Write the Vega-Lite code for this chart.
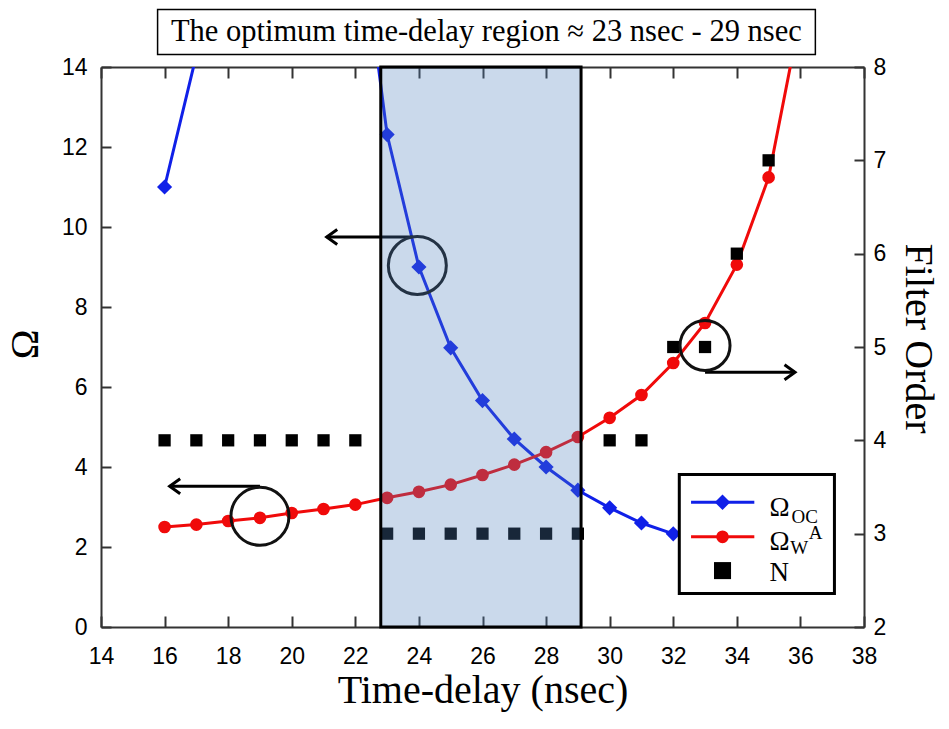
{
  "$schema": "https://vega.github.io/schema/vega-lite/v6.json",
  "width": 763,
  "height": 560,
  "autosize": "none",
  "padding": {"left": 101, "top": 67, "right": 85, "bottom": 102},
  "background": "white",
  "config": {
    "view": {"stroke": null},
    "axis": {
      "grid": false,
      "labelFlush": false,
      "domainColor": "#333333",
      "domainWidth": 2,
      "tickColor": "#333333",
      "tickWidth": 2,
      "labelFont": "Liberation Sans",
      "labelFontSize": 23,
      "labelColor": "black",
      "titleFont": "Liberation Serif",
      "titleFontSize": 40,
      "titleFontWeight": "normal",
      "titleColor": "black"
    }
  },
  "datasets": {
    "oc": [
      {"t": 16, "v": 11.0}, {"t": 17, "v": 14.3}, {"t": 18, "v": 20.0}, {"t": 19, "v": 26.0},
      {"t": 20, "v": 24.0}, {"t": 21, "v": 21.0}, {"t": 22, "v": 18.5}, {"t": 23, "v": 12.31},
      {"t": 24, "v": 9.0}, {"t": 25, "v": 6.98}, {"t": 26, "v": 5.66}, {"t": 27, "v": 4.7},
      {"t": 28, "v": 4.0}, {"t": 29, "v": 3.42}, {"t": 30, "v": 2.98}, {"t": 31, "v": 2.6},
      {"t": 32, "v": 2.33}
    ],
    "wa": [
      {"t": 16, "v": 2.5}, {"t": 17, "v": 2.56}, {"t": 18, "v": 2.65}, {"t": 19, "v": 2.73},
      {"t": 20, "v": 2.85}, {"t": 21, "v": 2.95}, {"t": 22, "v": 3.06}, {"t": 23, "v": 3.23},
      {"t": 24, "v": 3.38}, {"t": 25, "v": 3.56}, {"t": 26, "v": 3.8}, {"t": 27, "v": 4.06},
      {"t": 28, "v": 4.37}, {"t": 29, "v": 4.75}, {"t": 30, "v": 5.23}, {"t": 31, "v": 5.8},
      {"t": 32, "v": 6.6}, {"t": 33, "v": 7.6}, {"t": 34, "v": 9.06}, {"t": 35, "v": 11.24},
      {"t": 36, "v": 15.3}
    ],
    "n": [
      {"t": 16, "n": 4}, {"t": 17, "n": 4}, {"t": 18, "n": 4}, {"t": 19, "n": 4},
      {"t": 20, "n": 4}, {"t": 21, "n": 4}, {"t": 22, "n": 4}, {"t": 23, "n": 3},
      {"t": 24, "n": 3}, {"t": 25, "n": 3}, {"t": 26, "n": 3}, {"t": 27, "n": 3},
      {"t": 28, "n": 3}, {"t": 29, "n": 3}, {"t": 30, "n": 4}, {"t": 31, "n": 4},
      {"t": 32, "n": 5}, {"t": 33, "n": 5}, {"t": 34, "n": 6}, {"t": 35, "n": 7}
    ],
    "arrows": [
      {"t1": 21.1, "t2": 23.8, "v": 9.75, "dir": "left"},
      {"t1": 16.16, "t2": 19.0, "v": 3.52, "dir": "left"},
      {"t1": 35.83, "t2": 33.0, "v": 6.37, "dir": "right"}
    ],
    "rings_omega": [{"t": 23.95, "v": 9.04}, {"t": 19.0, "v": 2.77}],
    "ring_n": [{"t": 33.0, "v": 7.04}],
    "region": [{"t1": 22.8, "t2": 29.1, "v1": 0, "v2": 14}],
    "legend_box": [{"t1": 32.19, "t2": 37.07, "v1": 0.84, "v2": 3.81}],
    "legend_keys": [
      {"series": "OC", "t1": 32.56, "t2": 34.55, "t": 33.55, "v": 3.12},
      {"series": "WA", "t1": 32.56, "t2": 34.55, "t": 33.55, "v": 2.255},
      {"series": "N", "t1": 33.55, "t2": 33.55, "t": 33.55, "v": 1.41}
    ],
    "legend_main": [
      {"label": "Ω", "t": 35.03, "v": 2.77},
      {"label": "Ω", "t": 35.03, "v": 1.92},
      {"label": "N", "t": 35.03, "v": 1.145}
    ],
    "legend_small": [
      {"label": "OC", "t": 35.72, "v": 2.605},
      {"label": "W", "t": 35.68, "v": 1.83},
      {"label": "A", "t": 36.26, "v": 2.19}
    ],
    "headline": [
      {"label": "The optimum time-delay region ≈ 23 nsec - 29 nsec", "t": 26.12, "v": 14.64,
       "t1": 15.78, "t2": 36.47, "v1": 14.31, "v2": 15.44}
    ]
  },
  "layer": [
    {
      "layer": [
        {
          "data": {"name": "oc"},
          "mark": {"type": "line", "color": "#1020e8", "strokeWidth": 3, "clip": true},
          "encoding": {
            "x": {
              "field": "t", "type": "quantitative",
              "scale": {"domain": [14, 38], "nice": false, "zero": false},
              "axis": {
                "orient": "bottom",
                "title": "Time-delay (nsec)",
                "values": [14, 16, 18, 20, 22, 24, 26, 28, 30, 32, 34, 36, 38],
                "tickSize": -11,
                "labelPadding": 29,
                "titleY": 75,
                "titleBaseline": "alphabetic"
              }
            },
            "y": {
              "field": "v", "type": "quantitative",
              "scale": {"domain": [0, 14], "nice": false, "zero": false},
              "axis": {
                "orient": "left",
                "title": "Ω",
                "values": [0, 2, 4, 6, 8, 10, 12, 14],
                "tickSize": -10,
                "labelPadding": 24,
                "titleAngle": -90,
                "titleX": -64,
                "titleY": 277,
                "titleBaseline": "alphabetic"
              }
            }
          }
        },
        {
          "data": {"name": "oc"},
          "mark": {"type": "point", "shape": "diamond", "filled": true, "color": "#1020e8", "size": 230, "opacity": 1, "clip": true},
          "encoding": {
            "x": {"field": "t", "type": "quantitative", "scale": {"domain": [14, 38], "nice": false, "zero": false}},
            "y": {"field": "v", "type": "quantitative", "scale": {"domain": [0, 14], "nice": false, "zero": false}}
          }
        },
        {
          "data": {"name": "wa"},
          "mark": {"type": "line", "color": "#f00a0a", "strokeWidth": 3, "clip": true},
          "encoding": {
            "x": {"field": "t", "type": "quantitative", "scale": {"domain": [14, 38], "nice": false, "zero": false}},
            "y": {"field": "v", "type": "quantitative", "scale": {"domain": [0, 14], "nice": false, "zero": false}}
          }
        },
        {
          "data": {"name": "wa"},
          "mark": {"type": "point", "shape": "circle", "filled": true, "color": "#f00a0a", "size": 160, "opacity": 1, "clip": true},
          "encoding": {
            "x": {"field": "t", "type": "quantitative", "scale": {"domain": [14, 38], "nice": false, "zero": false}},
            "y": {"field": "v", "type": "quantitative", "scale": {"domain": [0, 14], "nice": false, "zero": false}}
          }
        }
      ]
    },
    {
      "layer": [
        {
          "data": {"name": "n"},
          "mark": {"type": "point", "shape": "square", "filled": true, "color": "black", "size": 150, "opacity": 1},
          "encoding": {
            "x": {"field": "t", "type": "quantitative", "scale": {"domain": [14, 38], "nice": false, "zero": false}, "axis": null},
            "y": {
              "field": "n", "type": "quantitative",
              "scale": {"domain": [2, 8], "nice": false, "zero": false},
              "axis": {
                "orient": "right",
                "title": "Filter Order",
                "values": [2, 3, 4, 5, 6, 7, 8],
                "tickSize": -10,
                "labelPadding": 19,
                "titleAngle": 90,
                "titleX": 41,
                "titleY": 271,
                "titleBaseline": "alphabetic"
              }
            }
          }
        }
      ]
    },
    {
      "layer": [
        {
          "data": {"name": "arrows"},
          "mark": {"type": "rule", "color": "black", "strokeWidth": 3},
          "encoding": {
            "x": {
              "field": "t1", "type": "quantitative",
              "scale": {"domain": [14, 38], "nice": false, "zero": false},
              "axis": {
                "orient": "top",
                "title": null,
                "labels": false,
                "values": [14, 16, 18, 20, 22, 24, 26, 28, 30, 32, 34, 36, 38],
                "tickSize": -11
              }
            },
            "x2": {"field": "t2"},
            "y": {"field": "v", "type": "quantitative", "scale": {"domain": [0, 14], "nice": false, "zero": false}, "axis": null}
          }
        },
        {
          "data": {"name": "arrows"},
          "mark": {"type": "point", "filled": false, "stroke": "black", "strokeWidth": 3, "size": 225, "opacity": 1},
          "encoding": {
            "x": {"field": "t1", "type": "quantitative", "scale": {"domain": [14, 38], "nice": false, "zero": false}},
            "y": {"field": "v", "type": "quantitative", "scale": {"domain": [0, 14], "nice": false, "zero": false}},
            "shape": {
              "field": "dir", "type": "nominal",
              "scale": {"domain": ["left", "right"], "range": ["M 1.4 -1 L 0 0 L 1.4 1", "M -1.4 -1 L 0 0 L -1.4 1"]},
              "legend": null
            }
          }
        },
        {
          "data": {"name": "rings_omega"},
          "mark": {"type": "point", "shape": "circle", "filled": false, "stroke": "#111111", "strokeWidth": 3, "size": 3364, "opacity": 1},
          "encoding": {
            "x": {"field": "t", "type": "quantitative", "scale": {"domain": [14, 38], "nice": false, "zero": false}},
            "y": {"field": "v", "type": "quantitative", "scale": {"domain": [0, 14], "nice": false, "zero": false}}
          }
        },
        {
          "data": {"name": "ring_n"},
          "mark": {"type": "point", "shape": "circle", "filled": false, "stroke": "#111111", "strokeWidth": 3, "size": 2500, "opacity": 1},
          "encoding": {
            "x": {"field": "t", "type": "quantitative", "scale": {"domain": [14, 38], "nice": false, "zero": false}},
            "y": {"field": "v", "type": "quantitative", "scale": {"domain": [0, 14], "nice": false, "zero": false}}
          }
        },
        {
          "data": {"name": "region"},
          "mark": {"type": "rect", "color": "#4f81bd", "opacity": 0.3},
          "encoding": {
            "x": {"field": "t1", "type": "quantitative", "scale": {"domain": [14, 38], "nice": false, "zero": false}},
            "x2": {"field": "t2"},
            "y": {"field": "v1", "type": "quantitative", "scale": {"domain": [0, 14], "nice": false, "zero": false}},
            "y2": {"field": "v2"}
          }
        },
        {
          "data": {"name": "region"},
          "mark": {"type": "rect", "fillOpacity": 0, "stroke": "black", "strokeWidth": 3},
          "encoding": {
            "x": {"field": "t1", "type": "quantitative", "scale": {"domain": [14, 38], "nice": false, "zero": false}},
            "x2": {"field": "t2"},
            "y": {"field": "v1", "type": "quantitative", "scale": {"domain": [0, 14], "nice": false, "zero": false}},
            "y2": {"field": "v2"}
          }
        },
        {
          "data": {"name": "legend_box"},
          "mark": {"type": "rect", "fill": "white", "stroke": "black", "strokeWidth": 3},
          "encoding": {
            "x": {"field": "t1", "type": "quantitative", "scale": {"domain": [14, 38], "nice": false, "zero": false}},
            "x2": {"field": "t2"},
            "y": {"field": "v1", "type": "quantitative", "scale": {"domain": [0, 14], "nice": false, "zero": false}},
            "y2": {"field": "v2"}
          }
        },
        {
          "data": {"name": "legend_keys"},
          "transform": [{"filter": "datum.series === 'OC'"}],
          "mark": {"type": "rule", "color": "#1020e8", "strokeWidth": 3},
          "encoding": {
            "x": {"field": "t1", "type": "quantitative", "scale": {"domain": [14, 38], "nice": false, "zero": false}},
            "x2": {"field": "t2"},
            "y": {"field": "v", "type": "quantitative", "scale": {"domain": [0, 14], "nice": false, "zero": false}}
          }
        },
        {
          "data": {"name": "legend_keys"},
          "transform": [{"filter": "datum.series === 'WA'"}],
          "mark": {"type": "rule", "color": "#f00a0a", "strokeWidth": 3},
          "encoding": {
            "x": {"field": "t1", "type": "quantitative", "scale": {"domain": [14, 38], "nice": false, "zero": false}},
            "x2": {"field": "t2"},
            "y": {"field": "v", "type": "quantitative", "scale": {"domain": [0, 14], "nice": false, "zero": false}}
          }
        },
        {
          "data": {"name": "legend_keys"},
          "transform": [{"filter": "datum.series === 'OC'"}],
          "mark": {"type": "point", "shape": "diamond", "filled": true, "color": "#1020e8", "size": 240, "opacity": 1},
          "encoding": {
            "x": {"field": "t", "type": "quantitative", "scale": {"domain": [14, 38], "nice": false, "zero": false}},
            "y": {"field": "v", "type": "quantitative", "scale": {"domain": [0, 14], "nice": false, "zero": false}}
          }
        },
        {
          "data": {"name": "legend_keys"},
          "transform": [{"filter": "datum.series === 'WA'"}],
          "mark": {"type": "point", "shape": "circle", "filled": true, "color": "#f00a0a", "size": 160, "opacity": 1},
          "encoding": {
            "x": {"field": "t", "type": "quantitative", "scale": {"domain": [14, 38], "nice": false, "zero": false}},
            "y": {"field": "v", "type": "quantitative", "scale": {"domain": [0, 14], "nice": false, "zero": false}}
          }
        },
        {
          "data": {"name": "legend_keys"},
          "transform": [{"filter": "datum.series === 'N'"}],
          "mark": {"type": "point", "shape": "square", "filled": true, "color": "black", "size": 290, "opacity": 1},
          "encoding": {
            "x": {"field": "t", "type": "quantitative", "scale": {"domain": [14, 38], "nice": false, "zero": false}},
            "y": {"field": "v", "type": "quantitative", "scale": {"domain": [0, 14], "nice": false, "zero": false}}
          }
        },
        {
          "data": {"name": "legend_main"},
          "mark": {"type": "text", "font": "Liberation Serif", "fontSize": 27, "color": "black", "align": "left", "baseline": "alphabetic"},
          "encoding": {
            "x": {"field": "t", "type": "quantitative", "scale": {"domain": [14, 38], "nice": false, "zero": false}},
            "y": {"field": "v", "type": "quantitative", "scale": {"domain": [0, 14], "nice": false, "zero": false}},
            "text": {"field": "label"}
          }
        },
        {
          "data": {"name": "legend_small"},
          "mark": {"type": "text", "font": "Liberation Serif", "fontSize": 19, "color": "black", "align": "left", "baseline": "alphabetic"},
          "encoding": {
            "x": {"field": "t", "type": "quantitative", "scale": {"domain": [14, 38], "nice": false, "zero": false}},
            "y": {"field": "v", "type": "quantitative", "scale": {"domain": [0, 14], "nice": false, "zero": false}},
            "text": {"field": "label"}
          }
        },
        {
          "data": {"name": "headline"},
          "mark": {"type": "rect", "fill": "white", "stroke": "black", "strokeWidth": 1.5},
          "encoding": {
            "x": {"field": "t1", "type": "quantitative", "scale": {"domain": [14, 38], "nice": false, "zero": false}},
            "x2": {"field": "t2"},
            "y": {"field": "v1", "type": "quantitative", "scale": {"domain": [0, 14], "nice": false, "zero": false}},
            "y2": {"field": "v2"}
          }
        },
        {
          "data": {"name": "headline"},
          "mark": {"type": "text", "font": "Liberation Serif", "fontSize": 30.5, "color": "black", "align": "center", "baseline": "alphabetic"},
          "encoding": {
            "x": {"field": "t", "type": "quantitative", "scale": {"domain": [14, 38], "nice": false, "zero": false}},
            "y": {"field": "v", "type": "quantitative", "scale": {"domain": [0, 14], "nice": false, "zero": false}},
            "text": {"field": "label"}
          }
        }
      ]
    }
  ],
  "resolve": {"scale": {"y": "independent"}, "axis": {"x": "independent"}}
}
